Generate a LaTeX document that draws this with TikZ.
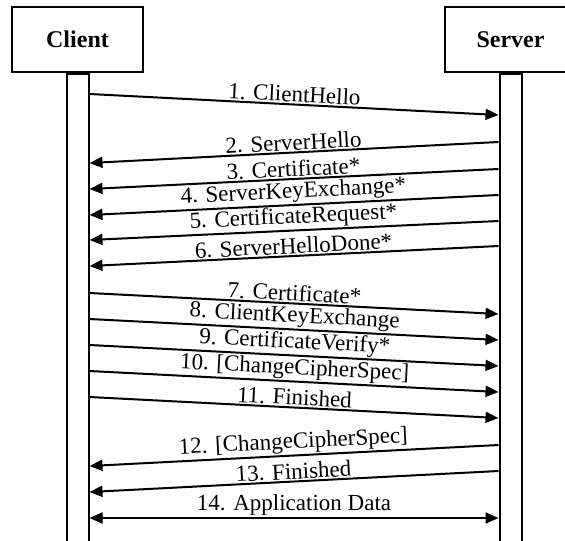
\documentclass[tikz,border=0pt]{standalone}
\usepackage{fontspec}
\setmainfont{Liberation Serif}
\usetikzlibrary{arrows.meta,positioning}

\begin{document}
\begin{tikzpicture}[
    x=0.5pt,
    y=-0.5pt,
    party box/.style={
      draw,
      line width=1pt,
      minimum width=65.5pt,
      minimum height=32.5pt,
      inner sep=0pt,
      font=\fontsize{12}{14}\selectfont\bfseries
    },
    lifeline/.style={
      draw,
      line width=1pt,
      minimum width=11pt,
      minimum height=240pt,
      inner sep=0pt
    },
    message/.style={
      line width=1pt
    },
    msg tip/.style={
      -{Triangle[length=6.5pt,width=5.5pt]}
    },
    msg label/.style={
      above,
      sloped,
      midway,
      inner sep=0.6pt,
      font=\fontsize{11.5}{13}\selectfont
    }
]
\useasboundingbox (0,0) rectangle (565,540);
\clip (0,0) rectangle (565,540);

% Participants and their lifelines.
\node[party box] (client) at (77.5,39.5) {Client};
\node[party box] (server) at (510.5,39.5) {Server};
\node[lifeline, below=0pt of client] (clientline) {};
\node[lifeline, below=0pt of server] (serverline) {};

% Client to server.
\foreach \n/\yc/\ys/\lab in {
  1/94/115/{1. ClientHello},
  7/293/314/{7. Certificate*},
  8/319/340/{8. ClientKeyExchange},
  9/345/366/{9. CertificateVerify*},
  10/371/392/{10. [ChangeCipherSpec]},
  11/397/418/{11. Finished}
}{
  \coordinate (c\n) at (clientline.east |- 0,\yc);
  \coordinate (s\n) at (serverline.west |- 0,\ys);
  \draw[message,msg tip] (c\n) -- (s\n) node[msg label] {\lab};
}

% Server to client.
\foreach \n/\yc/\ys/\lab in {
  2/163/142/{2. ServerHello},
  3/189/169/{3. Certificate*},
  4/215/195/{4. ServerKeyExchange*},
  5/240/221/{5. CertificateRequest*},
  6/266/246/{6. ServerHelloDone*},
  12/466/445/{12. [ChangeCipherSpec]},
  13/492/471/{13. Finished}
}{
  \coordinate (c\n) at (clientline.east |- 0,\yc);
  \coordinate (s\n) at (serverline.west |- 0,\ys);
  \draw[message,msg tip] (s\n) -- (c\n) node[msg label] {\lab};
}

% Both directions.
\coordinate (c14) at (clientline.east |- 0,518);
\coordinate (s14) at (serverline.west |- 0,518);
\draw[message,{Triangle[length=6.5pt,width=5.5pt]}-{Triangle[length=6.5pt,width=5.5pt]}]
  (c14) -- (s14) node[msg label] {14. Application Data};

\end{tikzpicture}
\end{document}
